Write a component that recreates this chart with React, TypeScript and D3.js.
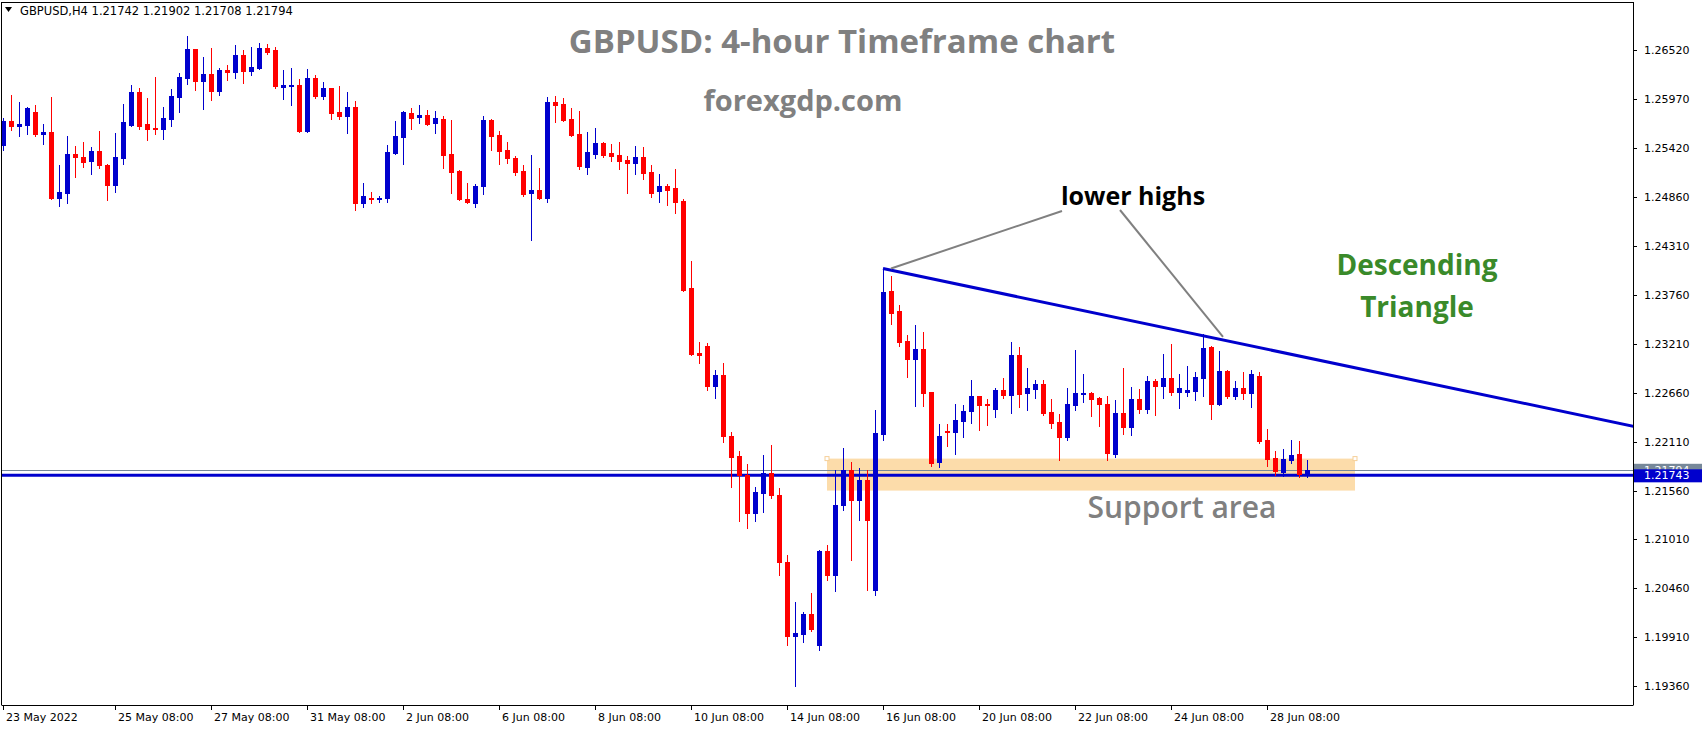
import React from 'react';
import * as d3 from 'd3';

// GBPUSD H4, one value per bar, bar 0 = 23 May 2022 00:00
const opens = [
  1.2545, 1.2572, 1.2566, 1.2568, 1.2582, 1.2557, 1.2560, 1.2485, 1.2491, 1.2535,
  1.2532, 1.2527, 1.2538, 1.2523, 1.2500, 1.2530, 1.2568, 1.2605, 1.2569, 1.2564,
  1.2563, 1.2574, 1.2599, 1.2620, 1.2653, 1.2617, 1.2625, 1.2606, 1.2629, 1.2627,
  1.2646, 1.2628, 1.2632, 1.2654, 1.2652, 1.2610, 1.2611, 1.2613, 1.2561, 1.2620,
  1.2600, 1.2609, 1.2582, 1.2578, 1.2588, 1.2480, 1.2485, 1.2484, 1.2485, 1.2536,
  1.2554, 1.2581, 1.2577, 1.2579, 1.2570, 1.2574, 1.2535, 1.2516, 1.2484, 1.2480,
  1.2499, 1.2573, 1.2556, 1.2539, 1.2530, 1.2516, 1.2491, 1.2494, 1.2485, 1.2593,
  1.2591, 1.2574, 1.2557, 1.2520, 1.2535, 1.2547, 1.2536, 1.2534, 1.2528, 1.2525,
  1.2532, 1.2515, 1.2493, 1.2499, 1.2497, 1.2482, 1.2384, 1.2311, 1.2319, 1.2274,
  1.2286, 1.2218, 1.2195, 1.2174, 1.2131, 1.2153, 1.2176, 1.2151, 1.2076, 1.1992,
  1.1994, 1.2017, 1.1982, 1.2088, 1.2061, 1.2140, 1.2179, 1.2145, 1.2168, 1.2044,
  1.2220, 1.2381, 1.2358, 1.2324, 1.2304, 1.2315, 1.2267, 1.2188, 1.2223, 1.2222,
  1.2234, 1.2246, 1.2262, 1.2254, 1.2248, 1.2269, 1.2264, 1.2309, 1.2266, 1.2270,
  1.2276, 1.2245, 1.2233, 1.2216, 1.2252, 1.2265, 1.2266, 1.2260, 1.2254, 1.2197,
  1.2243, 1.2228, 1.2259, 1.2248, 1.2279, 1.2274, 1.2283, 1.2267, 1.2267, 1.2268,
  1.2283, 1.2318, 1.2253, 1.2291, 1.2262, 1.2271, 1.2266, 1.2285, 1.2213, 1.2193,
  1.2177, 1.2190, 1.2197, 1.21742,
];
const highs = [
  1.2575, 1.2601, 1.2593, 1.2588, 1.2590, 1.2569, 1.2599, 1.2523, 1.2555, 1.2544,
  1.2548, 1.2543, 1.2561, 1.2524, 1.2559, 1.2591, 1.2613, 1.2609, 1.2598, 1.2622,
  1.2588, 1.2608, 1.2626, 1.2668, 1.2653, 1.2644, 1.2654, 1.2632, 1.2635, 1.2658,
  1.2652, 1.2655, 1.2660, 1.2659, 1.2655, 1.2629, 1.2632, 1.2619, 1.2631, 1.2624,
  1.2616, 1.2609, 1.2611, 1.2605, 1.2595, 1.2502, 1.2492, 1.2488, 1.2545, 1.2572,
  1.2583, 1.2587, 1.2590, 1.2584, 1.2583, 1.2578, 1.2573, 1.2517, 1.2502, 1.2501,
  1.2578, 1.2574, 1.2561, 1.2548, 1.2533, 1.2523, 1.2534, 1.2519, 1.2599, 1.2600,
  1.2598, 1.2587, 1.2583, 1.2560, 1.2564, 1.2548, 1.2546, 1.2548, 1.2533, 1.2544,
  1.2543, 1.2523, 1.2512, 1.2501, 1.2518, 1.2484, 1.2415, 1.2323, 1.2322, 1.2292,
  1.2300, 1.2222, 1.2201, 1.2186, 1.2160, 1.2196, 1.2207, 1.2159, 1.2084, 1.2031,
  1.2019, 1.2041, 1.2089, 1.2095, 1.2179, 1.2204, 1.2188, 1.2181, 1.2179, 1.2247,
  1.2406, 1.2398, 1.2365, 1.2331, 1.2342, 1.2334, 1.2267, 1.2231, 1.2231, 1.2253,
  1.2252, 1.2280, 1.2263, 1.2259, 1.2271, 1.2283, 1.2323, 1.2318, 1.2294, 1.2281,
  1.2280, 1.2259, 1.2242, 1.2271, 1.2314, 1.2287, 1.2267, 1.2261, 1.2263, 1.2258,
  1.2294, 1.2273, 1.2270, 1.2285, 1.2282, 1.2310, 1.2321, 1.2287, 1.2296, 1.2290,
  1.2332, 1.2319, 1.2313, 1.2292, 1.2279, 1.2289, 1.2292, 1.2289, 1.2225, 1.2200,
  1.2203, 1.2213, 1.2212, 1.21902,
];
const lows = [
  1.2539, 1.2562, 1.2555, 1.2557, 1.2555, 1.2546, 1.2484, 1.2476, 1.2480, 1.2509,
  1.2520, 1.2512, 1.2519, 1.2483, 1.2492, 1.2524, 1.2566, 1.2563, 1.2551, 1.2557,
  1.2552, 1.2566, 1.2582, 1.2614, 1.2607, 1.2586, 1.2596, 1.2601, 1.2618, 1.2620,
  1.2615, 1.2624, 1.2631, 1.2648, 1.2609, 1.2597, 1.2590, 1.2560, 1.2560, 1.2598,
  1.2597, 1.2574, 1.2574, 1.2559, 1.2472, 1.2475, 1.2480, 1.2481, 1.2481, 1.2535,
  1.2524, 1.2563, 1.2570, 1.2568, 1.2559, 1.2519, 1.2491, 1.2483, 1.2480, 1.2475,
  1.2490, 1.2539, 1.2524, 1.2525, 1.2511, 1.2488, 1.2438, 1.2484, 1.2481, 1.2571,
  1.2572, 1.2555, 1.2518, 1.2512, 1.2530, 1.2532, 1.2527, 1.2518, 1.2491, 1.2512,
  1.2507, 1.2487, 1.2481, 1.2477, 1.2469, 1.2381, 1.2309, 1.2300, 1.2269, 1.2260,
  1.2211, 1.2160, 1.2122, 1.2114, 1.2122, 1.2132, 1.2148, 1.2061, 1.1982, 1.1936,
  1.1986, 1.1998, 1.1976, 1.2055, 1.2043, 1.2134, 1.2078, 1.2123, 1.2044, 1.2039,
  1.2213, 1.2344, 1.2319, 1.2284, 1.2251, 1.2251, 1.2184, 1.2182, 1.2206, 1.2197,
  1.2216, 1.2232, 1.2224, 1.2230, 1.2239, 1.2260, 1.2243, 1.2250, 1.2247, 1.2260,
  1.2241, 1.2227, 1.2190, 1.2213, 1.2247, 1.2256, 1.2240, 1.2229, 1.2190, 1.2194,
  1.2220, 1.2219, 1.2243, 1.2243, 1.2241, 1.2260, 1.2264, 1.2249, 1.2262, 1.2258,
  1.2262, 1.2237, 1.2252, 1.2260, 1.2259, 1.2259, 1.2250, 1.2210, 1.2184, 1.2174,
  1.2172, 1.2187, 1.2171, 1.21708,
];
const closes = [
  1.2572, 1.2566, 1.2569, 1.2587, 1.2557, 1.2560, 1.2485, 1.2492, 1.2535, 1.2532,
  1.2526, 1.2538, 1.2523, 1.2500, 1.2532, 1.2571, 1.2605, 1.2566, 1.2563, 1.2563,
  1.2575, 1.2600, 1.2622, 1.2653, 1.2617, 1.2625, 1.2606, 1.2629, 1.2627, 1.2646,
  1.2628, 1.2633, 1.2654, 1.2650, 1.2611, 1.2613, 1.2613, 1.2561, 1.2620, 1.2600,
  1.2609, 1.2581, 1.2578, 1.2588, 1.2480, 1.2488, 1.2484, 1.2485, 1.2537, 1.2555,
  1.2582, 1.2575, 1.2579, 1.2569, 1.2575, 1.2534, 1.2515, 1.2484, 1.2481, 1.2499,
  1.2573, 1.2555, 1.2538, 1.2530, 1.2515, 1.2490, 1.2494, 1.2485, 1.2593, 1.2590,
  1.2573, 1.2556, 1.2521, 1.2537, 1.2547, 1.2534, 1.2533, 1.2527, 1.2525, 1.2532,
  1.2514, 1.2491, 1.2499, 1.2494, 1.2481, 1.2382, 1.2310, 1.2309, 1.2274, 1.2286,
  1.2217, 1.2194, 1.2174, 1.2131, 1.2154, 1.2176, 1.2151, 1.2076, 1.1992, 1.1996,
  1.2017, 1.2000, 1.2088, 1.2061, 1.2140, 1.2179, 1.2145, 1.2168, 1.2123, 1.2221,
  1.2380, 1.2356, 1.2323, 1.2304, 1.2315, 1.2266, 1.2187, 1.2217, 1.2222, 1.2236,
  1.2246, 1.2262, 1.2252, 1.2252, 1.2269, 1.2264, 1.2309, 1.2265, 1.2271, 1.2276,
  1.2243, 1.2232, 1.2216, 1.2253, 1.2266, 1.2266, 1.2259, 1.2253, 1.2198, 1.2243,
  1.2228, 1.2259, 1.2248, 1.2279, 1.2274, 1.2283, 1.2267, 1.2271, 1.2269, 1.2284,
  1.2317, 1.2253, 1.2291, 1.2262, 1.2271, 1.2266, 1.2287, 1.2212, 1.2192, 1.2178,
  1.2192, 1.2196, 1.2175, 1.21794,
];

const dateBars = [0, 14, 26, 38, 50, 62, 74, 86, 98, 110, 122, 134, 146, 158];
const dateLabels = [
  '23 May 2022', '25 May 08:00', '27 May 08:00', '31 May 08:00', '2 Jun 08:00',
  '6 Jun 08:00', '8 Jun 08:00', '10 Jun 08:00', '14 Jun 08:00', '16 Jun 08:00',
  '20 Jun 08:00', '22 Jun 08:00', '24 Jun 08:00', '28 Jun 08:00',
];
const priceTicks = [
  1.2652, 1.2597, 1.2542, 1.2486, 1.2431, 1.2376, 1.2321,
  1.2266, 1.2211, 1.2156, 1.2101, 1.2046, 1.1991, 1.1936,
];

const bidPrice = 1.21794;
const supportPrice = 1.21743;
const zoneBars = [103, 169];
const zonePrices = [1.2192, 1.2156];
const trendBars = [110, 204];
const trendPrices = [1.2406, 1.2228];
const calloutBars = [111, 152.5];
const calloutPrices = [1.2406, 1.2329];

const W = 1704;
const H = 730;
const axisX = 1633;
const axisY = 705;

const BLUE = '#0000cd';
const RED = '#ff0000';

export default function App() {
  const x = d3.scaleLinear().domain([0, 1]).range([3, 11]);
  const y = d3.scaleLinear().domain([1.1936, 1.2652]).range([686, 50]);
  const bars = d3.range(opens.length);
  const fmt = d3.format('.5f');
  const trendLine = d3.line<number>()
    .x(i => x(trendBars[i]))
    .y(i => y(trendPrices[i]));

  return (
    <svg width={W} height={H} style={{ position: 'absolute', left: 0, top: 0, background: '#fff' }}>
      <defs>
        <clipPath id="plot">
          <rect x={2} y={2} width={axisX - 2} height={axisY - 2} />
        </clipPath>
      </defs>
      <rect width={W} height={H} fill="#fff" />

      <g clipPath="url(#plot)">
        <rect
          x={x(zoneBars[0])} y={y(zonePrices[0])}
          width={x(zoneBars[1]) - x(zoneBars[0])}
          height={y(zonePrices[1]) - y(zonePrices[0])}
          fill="#fcdcaa"
        />
        <rect x={x(zoneBars[0]) - 2} y={y(zonePrices[0]) - 2} width={4} height={4} fill="#fff" stroke="#f5cf98" />
        <rect x={x(zoneBars[1]) - 2} y={y(zonePrices[0]) - 2} width={4} height={4} fill="#fff" stroke="#f5cf98" />

        <line x1={0} x2={axisX} y1={Math.round(y(bidPrice)) + 0.5} y2={Math.round(y(bidPrice)) + 0.5} stroke="#778899" strokeWidth={1} />
        <line x1={0} x2={axisX} y1={y(supportPrice) + 1} y2={y(supportPrice) + 1} stroke={BLUE} strokeWidth={3} />

        {bars.map(i => {
          const up = closes[i] >= opens[i];
          const c = up ? BLUE : RED;
          const xi = Math.round(x(i));
          const top = Math.round(y(Math.max(opens[i], closes[i])));
          const bot = Math.round(y(Math.min(opens[i], closes[i])));
          const hi = Math.round(y(highs[i]));
          const lo = Math.round(y(lows[i]));
          return (
            <g key={i}>
              <rect x={xi} y={hi} width={1} height={Math.max(1, lo - hi + 1)} fill={c} />
              <rect x={xi - 2} y={top} width={5} height={Math.max(1, bot - top + 1)} fill={c} />
            </g>
          );
        })}

        <path d={trendLine([0, 1]) || ''} fill="none" stroke={BLUE} strokeWidth={3} />

        <line x1={x(calloutBars[0])} y1={y(calloutPrices[0])} x2={1062} y2={211} stroke="#808080" strokeWidth={2} />
        <line x1={x(calloutBars[1])} y1={y(calloutPrices[1])} x2={1120} y2={210} stroke="#808080" strokeWidth={2} />
      </g>

      {/* frame */}
      <line x1={1.5} y1={2} x2={1.5} y2={axisY} stroke="#000" />
      <line x1={2} y1={2.5} x2={axisX} y2={2.5} stroke="#000" />
      <line x1={axisX + 0.5} y1={2} x2={axisX + 0.5} y2={axisY} stroke="#000" />
      <line x1={1.5} y1={axisY + 0.5} x2={axisX + 0.5} y2={axisY + 0.5} stroke="#000" />

      {/* price axis */}
      <g fontFamily="'DejaVu Sans', Tahoma, sans-serif" fontSize={11} fill="#000">
        {priceTicks.map(p => (
          <g key={p}>
            <line x1={axisX} x2={axisX + 4} y1={Math.round(y(p)) + 0.5} y2={Math.round(y(p)) + 0.5} stroke="#000" />
            <text x={axisX + 11} y={y(p) + 4}>{fmt(p)}</text>
          </g>
        ))}
        <rect x={axisX + 1} y={y(bidPrice) - 6} width={W - axisX - 3} height={12} fill="#778899" />
        <text x={axisX + 11} y={y(bidPrice) + 4} fill="#fff">{fmt(bidPrice)}</text>
        <rect x={axisX + 1} y={y(supportPrice) - 5} width={W - axisX - 3} height={13} fill={BLUE} />
        <text x={axisX + 11} y={y(supportPrice) + 5} fill="#fff">{fmt(supportPrice)}</text>
      </g>

      {/* time axis */}
      <g fontFamily="'DejaVu Sans', Tahoma, sans-serif" fontSize={11} fill="#000">
        {dateBars.map((b, i) => (
          <g key={b}>
            <line x1={Math.round(x(b)) + 0.5} x2={Math.round(x(b)) + 0.5} y1={axisY} y2={axisY + 5} stroke="#000" />
            <text x={Math.max(4, x(b) + 3)} y={axisY + 16}>{dateLabels[i]}</text>
          </g>
        ))}
      </g>

      {/* header */}
      <g fontFamily="'DejaVu Sans', Tahoma, sans-serif" fontSize={11.5} fill="#000">
        <path d="M5,7 L12,7 L8.5,12 Z" fill="#000" />
        <text x={20} y={15}>GBPUSD,H4  1.21742 1.21902 1.21708 1.21794</text>
      </g>

      {/* annotations */}
      <g fontFamily="'Open Sans', 'Noto Sans', sans-serif" fontWeight="bold">
        <text x={842} y={53} textAnchor="middle" fontSize={33} fill="#808080">GBPUSD: 4-hour Timeframe chart</text>
        <text x={803} y={111} textAnchor="middle" fontSize={29} fill="#808080">forexgdp.com</text>
        <text x={1133} y={205} textAnchor="middle" fontSize={25} fill="#000">lower highs</text>
        <text x={1417} y={275} textAnchor="middle" fontSize={28} fill="#3a8a2a">Descending</text>
        <text x={1417} y={317} textAnchor="middle" fontSize={28} fill="#3a8a2a">Triangle</text>
        <text x={1182} y={518} textAnchor="middle" fontSize={30} fontWeight={600} fill="#808080">Support area</text>
      </g>
    </svg>
  );
}
